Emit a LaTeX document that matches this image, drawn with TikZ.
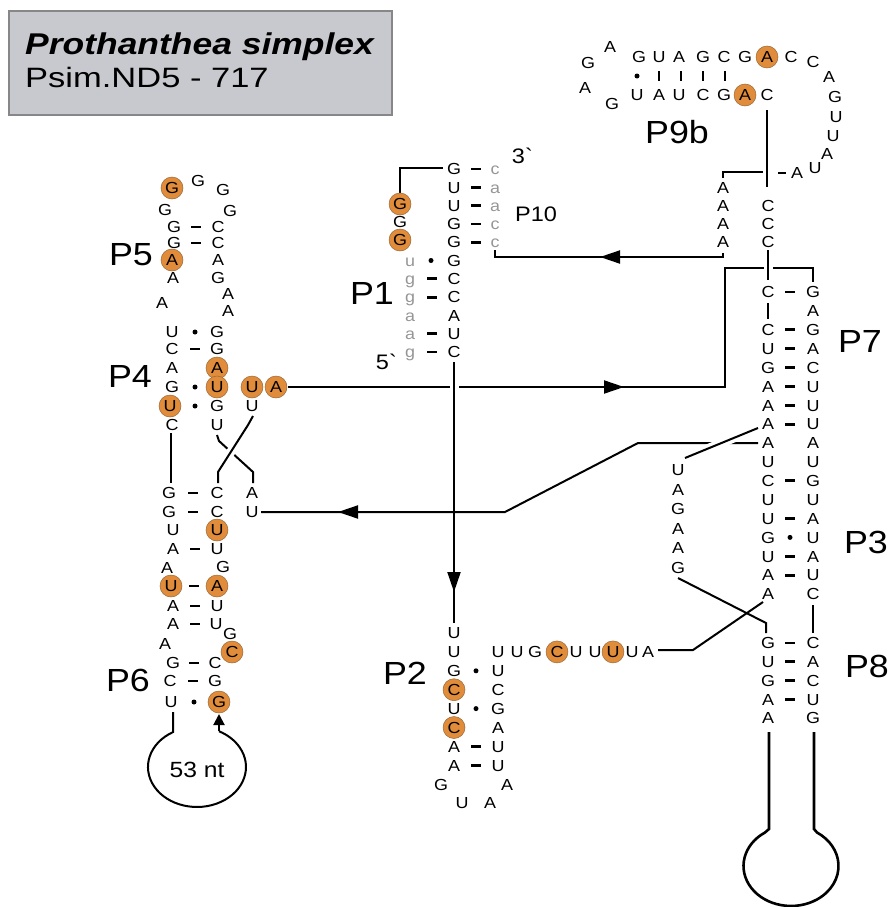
\documentclass[tikz,border=0pt]{standalone}
\usepackage{fontspec}
\setmainfont[FakeStretch=1.12]{Liberation Sans}
\usetikzlibrary{arrows.meta}
\definecolor{orng}{RGB}{224,140,58}
\definecolor{ornge}{RGB}{150,105,60}
\definecolor{boxfill}{RGB}{200,201,206}
\definecolor{boxline}{RGB}{135,135,135}
\definecolor{lgray}{RGB}{150,150,150}
\newcommand{\mkN}[4]{\node[nt] (#1) at (#2,#3) {#4};}
\newcommand{\mkC}[4]{\node[ntc] (#1) at (#2,#3) {#4};}
\newcommand{\mkL}[4]{\node[ntl] (#1) at (#2,#3) {#4};}
\newcommand{\mkH}[2]{\draw[pb] ({#1-5},#2) -- ({#1+5},#2);}
\newcommand{\mkV}[2]{\draw[pb] (#1,{#2-5}) -- (#1,{#2+5});}
\newcommand{\mkD}[2]{\fill (#1,#2) circle[radius=2.5];}
\begin{document}
\begin{tikzpicture}[x=1pt,y=-1pt,
 nt/.style={font=\fontsize{16}{16}\selectfont, inner sep=0pt, text height=11.5pt, text depth=0pt},
 ntc/.style={nt, circle, fill=orng, draw=ornge, line width=0.5pt, minimum size=22pt},
 ntl/.style={nt, text=lgray},
 pb/.style={line width=2.8pt},
 bb/.style={line width=2pt},
 lbl/.style={font=\fontsize{32}{32}\selectfont, inner sep=0pt},
 smalllbl/.style={font=\fontsize{21}{21}\selectfont, inner sep=0pt},
 midarrow/.style={-{Triangle[length=20pt,width=13pt]}, line width=2pt},
 bridge/.style={preaction={draw=white, line width=9pt}}
]
\useasboundingbox (0,0) rectangle (893,907);

% ---------- title ----------
\node[draw=boxline, line width=2pt, fill=boxfill, minimum width=383pt, minimum height=104pt, inner sep=0pt] (tbox) at (200.5,63) {};
\node[anchor=base west, inner sep=0pt, xscale=1.055, font=\fontsize{30}{30}\selectfont\bfseries\itshape] (ttl1) at (25,55) {Prothanthea simplex};
\node[anchor=base west, inner sep=0pt, xscale=1.1, font=\fontsize{28}{28}\selectfont] (ttl2) at (25,88) {Psim.ND5 - 717};

% ---------- backbone lines ----------
\draw[bb] (767,110) -- (767,187);
\draw[bb] (288,387) -| (725,268) -| (813,282);
\draw[midarrow] (600,387) -- (624,387);
\draw[bb] (495,250) -- (495,257) -| (723,253);
\draw[midarrow] (624,257) -- (600,257);
\draw[bb] (723,178) |- (763,172);
\draw[line width=2pt] (778,173) -- (786,173);
\draw[bb,bridge] (768,250) -- (768,280);
\draw[bb] (768,303) -- (768,319);
\draw[bb,bridge] (454,362) -- (454,623);
\draw[midarrow] (454,566) -- (454,592);
\draw[bb] (400,193) |- (443,168);
\draw[bb] (171,433) -- (171,483);
\draw[bb] (217,435) -- (219,441) -- (253,472) -- (253,483);
\draw[bb,bridge] (253,416) -- (248,425) -- (218,472) -- (218,483);
\draw[bb] (261,512) -- (505,512) -- (638,443) -- (758,443);
\draw[midarrow] (362,512) -- (338,512);
\draw[bb,bridge] (685,458) -- (758,428);
\draw[bb] (678,578) -- (766,623) -- (766,633);
\draw[bb] (658,650) -- (693,650) -- (763,602);
\draw[bb] (813,605) -- (813,633);
\draw[line width=2.6pt] (769,732) -- (769,829) -- (765,832.5) arc[start angle=236.8, end angle=-56.8, x radius=47.5, y radius=40] -- (814,829) -- (814,732);
\draw[bb] (173,712) -- (173,732.1) arc[start angle=240.7, end angle=-63.3, x radius=49, y radius=40];
\draw[bb, -{Triangle[length=11pt,width=11pt]}] (219,731.3) -- (219,714);

% ---------- P9b ----------
\mkN{t1}{639}{57}{G} \mkN{t2}{659}{57}{U} \mkN{t3}{679}{57}{A} \mkN{t4}{703}{57}{G}
\mkN{t5}{724}{57}{C} \mkN{t6}{745}{57}{G} \mkC{t7}{767}{57}{A} \mkN{t8}{791}{57}{C} \mkN{t9}{813}{62}{C}
\mkN{b1}{637}{95}{U} \mkN{b2}{659}{95}{A} \mkN{b3}{679}{95}{U} \mkN{b4}{703}{95}{C}
\mkN{b5}{724}{95}{G} \mkC{b6}{745}{95}{A} \mkN{b7}{767}{95}{C}
\mkN{l1}{610}{47}{A} \mkN{l2}{588}{63}{G} \mkN{l3}{585}{88}{A} \mkN{l4}{612}{104}{G}
\mkN{r1}{829}{77}{A} \mkN{r2}{835}{97}{G} \mkN{r3}{836}{117}{U} \mkN{r4}{833}{136}{U}
\mkN{r5}{827}{154}{A} \mkN{r6}{815}{168}{U} \mkN{r7}{797}{173}{A}
\mkD{637}{76} \mkV{659}{76} \mkV{681}{76} \mkV{703}{76} \mkV{725}{76}

\mkN{a1}{723}{187.5}{A} \mkN{a2}{723}{205.5}{A} \mkN{a3}{723}{223.5}{A} \mkN{a4}{723}{241.5}{A}
\mkN{c1}{768}{205.5}{C} \mkN{c2}{768}{223.5}{C} \mkN{c3}{768}{241.5}{C}

% ---------- P7 / P3 ----------
\mkN{pl0}{768}{292.0}{C}   \mkN{pr0}{813}{292.0}{G} \mkH{790}{292.0}
                            \mkN{pr1}{813}{310.9}{A}
\mkN{pl2}{768}{329.8}{C}   \mkN{pr2}{813}{329.8}{G} \mkH{790}{329.8}
\mkN{pl3}{768}{348.6}{U}   \mkN{pr3}{813}{348.6}{A} \mkH{790}{348.6}
\mkN{pl4}{768}{367.5}{G}   \mkN{pr4}{813}{367.5}{C} \mkH{790}{367.5}
\mkN{pl5}{768}{386.4}{A}   \mkN{pr5}{813}{386.4}{U} \mkH{790}{386.4}
\mkN{pl6}{768}{405.3}{A}   \mkN{pr6}{813}{405.3}{U} \mkH{790}{405.3}
\mkN{pl7}{768}{424.1}{A}   \mkN{pr7}{813}{424.1}{U} \mkH{790}{424.1}
\mkN{pl8}{768}{443.0}{A}   \mkN{pr8}{813}{443.0}{A}
\mkN{pl9}{768}{461.9}{U}   \mkN{pr9}{813}{461.9}{U}
\mkN{pl10}{768}{480.8}{C}  \mkN{pr10}{813}{480.8}{G} \mkH{790}{480.8}
\mkN{pl11}{768}{499.6}{U}  \mkN{pr11}{813}{499.6}{U}
\mkN{pl12}{768}{518.5}{U}  \mkN{pr12}{813}{518.5}{A} \mkH{790}{518.5}
\mkN{pl13}{768}{537.4}{G}  \mkN{pr13}{813}{537.4}{U} \mkD{790}{537.4}
\mkN{pl14}{768}{556.3}{U}  \mkN{pr14}{813}{556.3}{A} \mkH{790}{556.3}
\mkN{pl15}{768}{575.1}{A}  \mkN{pr15}{813}{575.1}{U} \mkH{790}{575.1}
\mkN{pl16}{768}{594.0}{A}  \mkN{pr16}{813}{594.0}{C}
\mkN{h1}{678}{470}{U} \mkN{h2}{678}{489.5}{A} \mkN{h3}{678}{509}{G}
\mkN{h4}{678}{528.5}{A} \mkN{h5}{678}{548}{A} \mkN{h6}{678}{567.5}{G}
\mkN{pel0}{768}{643}{G} \mkN{per0}{813}{643}{C} \mkH{790}{643}
\mkN{pel1}{768}{661.8}{U} \mkN{per1}{813}{661.8}{A} \mkH{790}{661.8}
\mkN{pel2}{768}{680.5}{G} \mkN{per2}{813}{680.5}{C} \mkH{790}{680.5}
\mkN{pel3}{768}{699.3}{A} \mkN{per3}{813}{699.3}{U} \mkH{790}{699.3}
\mkN{pel4}{768}{718}{A} \mkN{per4}{813}{718}{G}

% ---------- P1 / P10 ----------
\mkN{q1}{454}{169}{G} \mkN{q2}{454}{187.3}{U} \mkN{q3}{454}{205.6}{U} \mkN{q4}{454}{223.9}{G}
\mkN{q5}{454}{242.2}{G} \mkN{q6}{454}{260.5}{G} \mkN{q7}{454}{278.8}{C} \mkN{q8}{454}{297.1}{C}
\mkN{q9}{454}{315.4}{A} \mkN{q10}{454}{333.7}{U} \mkN{q11}{454}{352}{C}
\mkL{s1}{495}{169}{c} \mkL{s2}{495}{187.3}{a} \mkL{s3}{495}{205.6}{a} \mkL{s4}{495}{223.9}{c} \mkL{s5}{495}{242.2}{c}
\mkH{476}{169} \mkH{476}{187.3} \mkH{476}{205.6} \mkH{476}{223.9} \mkH{476}{242.2}
\mkL{v1}{410}{260.5}{u} \mkL{v2}{410}{278.8}{g} \mkL{v3}{410}{297.1}{g}
\mkL{v4}{410}{315.4}{a} \mkL{v5}{410}{333.7}{a} \mkL{v6}{410}{352}{g}
\mkD{431}{260.5} \mkH{432}{278.8} \mkH{432}{297.1} \mkH{432}{333.7} \mkH{432}{352}
\mkC{g1}{400}{204}{G} \mkN{g2}{400}{222}{G} \mkC{g3}{400}{240}{G}

% ---------- P2 ----------
\mkN{w1}{454}{633}{U} \mkN{w2}{454}{651.9}{U} \mkN{w3}{454}{670.8}{G} \mkC{w4}{454}{689.7}{C}
\mkN{w5}{454}{708.6}{U} \mkC{w6}{454}{727.5}{C} \mkN{w7}{454}{746.4}{A} \mkN{w8}{454}{765.3}{A}
\mkN{w9}{441}{785}{G} \mkN{w10}{462}{803}{U} \mkN{w11}{490}{803}{A} \mkN{w12}{507}{785}{A}
\mkN{y1}{498}{651.9}{U} \mkN{y2}{498}{670.8}{U} \mkN{y3}{498}{689.7}{C} \mkN{y4}{498}{708.6}{G}
\mkN{y5}{498}{727.5}{A} \mkN{y6}{498}{746.4}{U} \mkN{y7}{498}{765.3}{U}
\mkD{476}{670.8} \mkD{476}{708.6} \mkH{476}{746.4} \mkH{476}{765.3}
\mkN{u1}{517}{651.9}{U} \mkN{u2}{535}{651.9}{G} \mkC{u3}{557}{651.9}{C} \mkN{u4}{576}{651.9}{U}
\mkN{u5}{595}{651.9}{U} \mkC{u6}{613}{651.9}{U} \mkN{u7}{632}{651.9}{U} \mkN{u8}{648}{651.9}{A}

% ---------- P5 / P4 ----------
\mkN{p5a}{165}{210}{G} \mkC{p5b}{172}{188}{G} \mkN{p5c}{198}{181}{G} \mkN{p5d}{223}{190}{G} \mkN{p5e}{230}{211}{G}
\mkN{k1}{174}{227}{G} \mkN{m1}{218}{227}{C} \mkH{196}{227}
\mkN{k2}{174}{243}{G} \mkN{m2}{218}{243}{C} \mkH{196}{243}
\mkC{k3}{172}{260}{A} \mkN{m3}{218}{260}{A}
\mkN{k4}{173}{278}{A} \mkN{m4}{218}{278}{G}
\mkN{k5}{162}{303}{A} \mkN{m5}{228}{294}{A} \mkN{m6}{228}{311}{A}
\mkN{k6}{172}{332}{U} \mkN{m7}{217}{332}{G} \mkD{195}{332}
\mkN{k7}{172}{349}{C} \mkN{m8}{217}{349}{G} \mkH{195}{349}
\mkN{k8}{172}{368}{A} \mkC{m9}{217}{368}{A}
\mkN{k9}{172}{387}{G} \mkC{m10}{217}{387}{U} \mkD{195}{387}
\mkC{k10}{170}{406}{U} \mkN{m11}{217}{406}{G} \mkD{195}{406}
\mkN{k11}{172}{425}{C} \mkN{m12}{217}{425}{U}
\mkC{x1}{252}{387}{U} \mkC{x2}{276}{387}{A} \mkN{x3}{252}{406}{U}

% ---------- P6 ----------
\mkN{k12}{169}{493}{G} \mkN{m13}{217}{493}{C} \mkN{x4}{252}{493}{A} \mkH{193}{493}
\mkN{k13}{169}{512}{G} \mkN{m14}{217}{512}{C} \mkN{x5}{252}{512}{U} \mkH{193}{512}
\mkN{k14}{173}{530}{U} \mkC{m15}{217}{530}{U}
\mkN{k15}{173}{549}{A} \mkN{m16}{217}{549}{U} \mkH{195}{549}
\mkN{k16}{167}{568}{A} \mkN{m17}{223}{567}{G}
\mkC{k17}{171}{586}{U} \mkC{m18}{217}{586}{A} \mkH{194}{586}
\mkN{k18}{173}{606}{A} \mkN{m19}{217}{606}{U} \mkH{195}{606}
\mkN{k19}{173}{624}{A} \mkN{m20}{216}{624}{U} \mkH{195}{624}
\mkN{m21}{230}{634}{G}
\mkN{k20}{165}{644}{A} \mkC{m22}{232}{652}{C}
\mkN{k21}{173}{663}{G} \mkN{m23}{215}{663}{C} \mkH{194}{663}
\mkN{k22}{170}{681}{C} \mkN{m24}{215}{681}{G} \mkH{193}{681}
\mkN{k23}{171}{702}{U} \mkC{m25}{219}{702}{G} \mkD{194}{702}
\node[inner sep=0pt, font=\fontsize{22}{22}\selectfont] (nt53) at (197,770) {53 nt};

% ---------- labels ----------
\node[lbl] (lP5) at (131,255) {P5};
\node[lbl] (lP4) at (130,376) {P4};
\node[lbl] (lP6) at (128,680) {P6};
\node[lbl] (lP1) at (372,293) {P1};
\node[lbl] (lP2) at (405,673) {P2};
\node[lbl] (lP9b) at (677,132) {P9b};
\node[lbl] (lP7) at (860,341) {P7};
\node[lbl] (lP3) at (866,542) {P3};
\node[lbl] (lP8) at (867,666) {P8};
\node[smalllbl] (lP10) at (536,214) {P10};
\node[smalllbl] (l3) at (522,156) {3\textasciigrave};
\node[smalllbl] (l5) at (386,362) {5\textasciigrave};
\end{tikzpicture}
\end{document}
